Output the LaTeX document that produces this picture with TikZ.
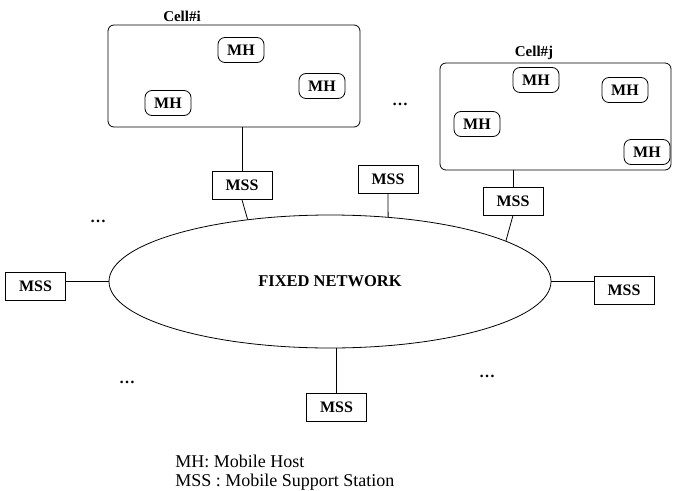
\documentclass[tikz,border=0pt]{standalone}
\usepackage{fontspec}
\setmainfont{Liberation Serif}
\usetikzlibrary{shapes.geometric}

\begin{document}
\begin{tikzpicture}[x=1pt,y=-1pt,line width=0.8pt,
        cell/.style={draw,rounded corners=6pt,inner sep=0pt},
        mh/.style={draw,rounded corners=7pt,minimum width=46pt,minimum height=25pt,inner sep=0pt,font=\fontsize{16}{18}\selectfont\bfseries},
        mss/.style={draw,minimum width=60pt,minimum height=28pt,inner sep=0pt,font=\fontsize{16}{18}\selectfont\bfseries},
        celltag/.style={font=\fontsize{15}{17}\selectfont\bfseries},
        more/.style={inner sep=0pt,font=\fontsize{16}{18}\selectfont\bfseries},
        key/.style={anchor=base west,inner sep=0pt,font=\fontsize{18}{20}\selectfont}]
        \useasboundingbox (0,0) rectangle (674,490);
        \node[cell,minimum width=252pt,minimum height=102pt] (celli) at (234,76) {};
        \node[cell,minimum width=231pt,minimum height=107pt] (cellj) at (555.5,116.5) {};
        \node[celltag] (tagi) at (182,16) {Cell\#i};
        \node[celltag] (tagj) at (534,53) {Cell\#j};
        \node[mh] (mhi1) at (241,50) {MH};
        \node[mh] (mhi2) at (322,86) {MH};
        \node[mh] (mhi3) at (168,103) {MH};
        \node[mh] (mhj1) at (536,80) {MH};
        \node[mh] (mhj2) at (625,90) {MH};
        \node[mh] (mhj3) at (477,124) {MH};
        \node[mh] (mhj4) at (647,152) {MH};
        \node[draw,ellipse,minimum width=442pt,minimum height=133pt,inner sep=0pt,font=\fontsize{16.5}{18}\selectfont\bfseries] (net) at (330,281.5) {FIXED NETWORK};
        \node[mss] (mssa) at (242,185.5) {MSS};
        \node[mss] (mssb) at (388,179) {MSS};
        \node[mss] (mssc) at (513,201) {MSS};
        \node[mss] (mssl) at (35.5,286) {MSS};
        \node[mss] (mssr) at (624,290) {MSS};
        \node[mss] (mssd) at (336.5,407) {MSS};
        \draw (mssa.north) -- (mssa.north |- celli.south);
        \draw (mssa.south) -- (net.143);
        \draw (mssb.south) -- (net.48);
        \draw (mssc.north) -- (mssc.north |- cellj.south);
        \draw (mssc.south) -- (net.13);
        \draw (net.west) -- (net.west -| mssl.east);
        \draw (net.east) -- (net.east -| mssr.west);
        \draw (mssd.north) -- (mssd.north |- net.south);
        \node[more] (moretop) at (400,104) {\dots};
        \node[more] (moreleft) at (98,221) {\dots};
        \node[more] (morebl) at (127,382) {\dots};
        \node[more] (morebr) at (487,376) {\dots};
        \node[key] (keymh) at (175,467) {MH: Mobile Host};
        \node[key] (keymss) at (175,486) {MSS : Mobile Support Station};
      \end{tikzpicture}
\end{document}
